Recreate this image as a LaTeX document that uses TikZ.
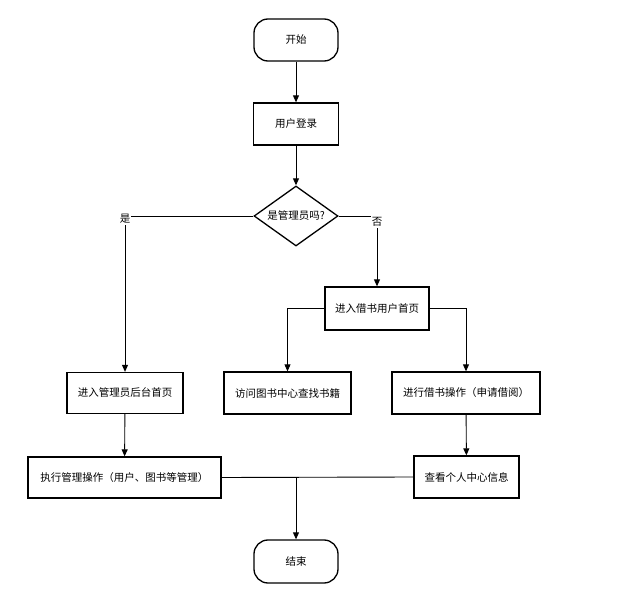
\documentclass[tikz,border=0pt]{standalone}
\usepackage{fontspec}
\setmainfont{Noto Sans CJK SC}
\usetikzlibrary{arrows.meta,shapes.geometric}

\begin{document}
\begin{tikzpicture}[x=1pt,y=-1pt,font=\fontsize{10.5}{12}\selectfont,
  >={Triangle[length=7pt,width=6pt]},
  box/.style={draw,line width=1.3pt,minimum height=42pt,inner sep=0pt},
  term/.style={box,rounded corners=14pt,minimum width=84pt},
  ask/.style={draw,line width=1.3pt,shape=diamond,aspect=1.4,minimum width=84pt,minimum height=60pt,inner sep=0pt},
  lab/.style={fill=white,inner sep=1pt}]
\useasboundingbox (0,0) rectangle (625,594);

\path (296,40) node[term] (A) {开始};
\path (296,124) node[box,minimum width=85pt] (B) {用户登录};
\path (296,216) node[ask] (C) {是管理员吗?};
\path (377,308.5) node[box,minimum width=104pt,minimum height=43pt] (D) {进入借书用户首页};
\path (287.5,393) node[box,minimum width=127pt] (E) {访问图书中心查找书籍};
\path (466,393) node[box,minimum width=148pt] (F) {进行借书操作（申请借阅）};
\path (125,393) node[box,minimum width=116pt,minimum height=41pt] (G) {进入管理员后台首页};
\path (124.5,477.5) node[box,minimum width=193pt,minimum height=41pt] (H) {执行管理操作（用户、图书等管理）};
\path (466.5,477) node[box,minimum width=105pt] (I) {查看个人中心信息};
\path (296,561.5) node[term,minimum height=43pt] (J) {结束};

\draw[line width=0.9pt,->] (A) -- (B);
\draw[line width=0.9pt,->] (B) -- (C);
\draw[line width=0.9pt,->] (C.west) -| node[lab,pos=0.5,yshift=-3pt] {是} (G);
\draw[line width=0.9pt,->] (C.east) -| node[lab,pos=0.5,yshift=-6pt] {否} (D);
\draw[line width=0.9pt,->] (D.west) -| (E);
\draw[line width=0.9pt,->] (D.east) -| (F);
\draw[line width=0.9pt,->] (G) -- (H);
\draw[line width=0.9pt,->] (F) -- (I);
\draw[line width=0.9pt] (H.east) -- (I.west);
\draw[line width=0.9pt,->] (H.east -| J.north) -- (J);
\end{tikzpicture}
\end{document}
